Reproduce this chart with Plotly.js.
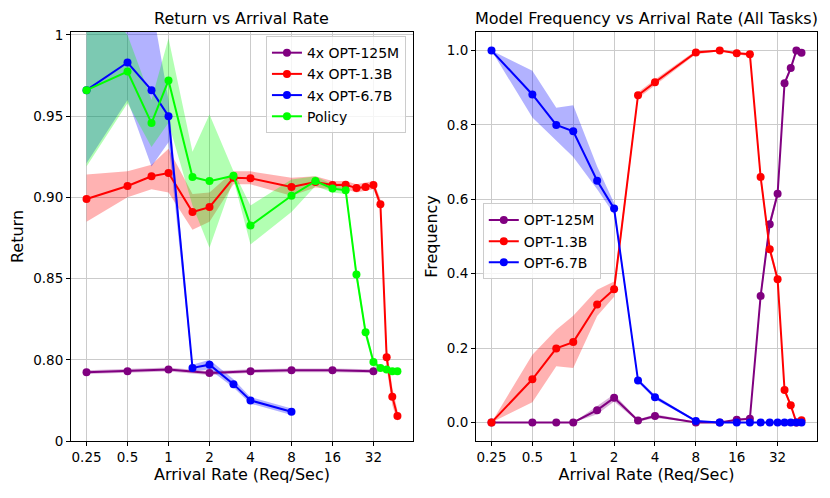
<!DOCTYPE html>
<html>
<head>
<meta charset="utf-8">
<script src="https://cdn.plot.ly/plotly-3.0.1.min.js"></script>
<style>
  html, body { margin: 0; padding: 0; background: #fff; }
  #graph { width: 830px; height: 498px; }
</style>
</head>
<body>
<div id="graph"></div>
<script>
// arrival rates (req/sec)
const rates = [0.25, 0.5, 0.75, 1, 1.5, 2, 3, 4, 8, 12, 16, 20, 24, 28, 32, 36, 40, 44, 48];
const tickRates = [0.25, 0.5, 1, 2, 4, 8, 16, 32];
const tickRateLabels = ["0.25", "0.5", "1", "2", "4", "8", "16", "32"];

// left panel: return
const smallRates = [0.25, 0.5, 1, 2, 4, 8, 16, 32];
const smallReturn = [0.7924, 0.793, 0.794, 0.7918, 0.793, 0.7935, 0.7935, 0.793];
const smallLo = [0.7912, 0.7918, 0.7928, 0.7906, 0.7918, 0.7923, 0.7923, 0.7918];
const smallHi = [0.7936, 0.7942, 0.7952, 0.7930, 0.7942, 0.7947, 0.7947, 0.7942];

const midReturn = [0.899, 0.907, 0.913, 0.915, 0.891, 0.894, 0.912, 0.9117, 0.9064, 0.9094, 0.9076, 0.9078, 0.9057, 0.9064, 0.9076, 0.8957, 0.8016, 0.7773, 0.7654];
const midLo = [0.885, 0.900, 0.905, 0.903, 0.880, 0.885, 0.908, 0.908, 0.901, 0.906, 0.905, 0.905, 0.903, 0.904, 0.905, 0.893, 0.795, 0.772, 0.762];
const midHi = [0.914, 0.916, 0.920, 0.930, 0.902, 0.903, 0.916, 0.916, 0.912, 0.913, 0.910, 0.910, 0.908, 0.909, 0.910, 0.899, 0.808, 0.783, 0.769];

const bigRates = [0.25, 0.5, 0.75, 1, 1.5, 2, 3, 4, 8];
const bigReturn = [0.966, 0.983, 0.966, 0.950, 0.795, 0.797, 0.785, 0.775, 0.768];
const bigLo = [0.921, 0.960, 0.919, 0.934, 0.793, 0.794, 0.783, 0.773, 0.766];
const bigHi = [1.03, 1.03, 1.02, 0.960, 0.797, 0.800, 0.788, 0.777, 0.770];

const policyReturn = [0.966, 0.9775, 0.9457, 0.972, 0.9125, 0.910, 0.9133, 0.8826, 0.901, 0.910, 0.9055, 0.9043, 0.8525, 0.817, 0.7986, 0.795, 0.794, 0.793, 0.793];
const policyLo = [0.919, 0.958, 0.931, 0.946, 0.895, 0.869, 0.911, 0.871, 0.891, 0.907, 0.903, 0.902, 0.849, 0.814, 0.796, 0.794, 0.793, 0.792, 0.792];
const policyHi = [1.03, 1.0, 0.96, 0.998, 0.928, 0.951, 0.916, 0.895, 0.911, 0.913, 0.908, 0.907, 0.856, 0.820, 0.801, 0.796, 0.795, 0.794, 0.794];

const returnTicks = [0.75, 0.8, 0.85, 0.9, 0.95, 1];
const returnTickLabels = ["0", "0.80", "0.85", "0.90", "0.95", "1"];

// right panel: model frequency
const freq125 = [0, 0, 0, 0, 0.033, 0.066, 0.005, 0.017, 0, 0, 0.007, 0.01, 0.34, 0.533, 0.615, 0.912, 0.953, 1.0, 0.994];
const freq125Lo = [0, 0, 0, 0, 0.022, 0.056, 0.002, 0.012, 0, 0, 0.004, 0.006, 0.325, 0.52, 0.605, 0.906, 0.948, 1.0, 0.99];
const freq125Hi = [0, 0, 0, 0, 0.044, 0.076, 0.008, 0.022, 0.002, 0, 0.01, 0.014, 0.355, 0.545, 0.625, 0.918, 0.958, 1.0, 0.998];

const freq13 = [0, 0.116, 0.199, 0.216, 0.317, 0.358, 0.88, 0.915, 0.995, 1.0, 0.993, 0.99, 0.66, 0.466, 0.385, 0.087, 0.046, 0.0, 0.006];
const freq13Lo = [0, 0.054, 0.151, 0.146, 0.286, 0.338, 0.872, 0.908, 0.99, 0.998, 0.99, 0.985, 0.645, 0.455, 0.375, 0.08, 0.04, 0, 0.003];
const freq13Hi = [0, 0.182, 0.249, 0.287, 0.357, 0.379, 0.888, 0.922, 1.0, 1.0, 0.996, 0.995, 0.675, 0.48, 0.395, 0.094, 0.052, 0.002, 0.009];

const freq67 = [1, 0.882, 0.80, 0.783, 0.65, 0.575, 0.113, 0.068, 0.004, 0, 0, 0, 0, 0, 0, 0, 0, 0, 0];
const freq67Lo = [1, 0.82, 0.759, 0.714, 0.627, 0.56, 0.108, 0.062, 0.002, 0, 0, 0, 0, 0, 0, 0, 0, 0, 0];
const freq67Hi = [1, 0.946, 0.846, 0.853, 0.688, 0.59, 0.118, 0.074, 0.006, 0, 0, 0, 0, 0, 0, 0, 0, 0, 0];

const FONT = "DejaVu Sans, Arial, sans-serif";
const TICK = 13.5;
const LABEL = 16;
const LEG = 14;

function band(xs, lo, hi, color, xa, ya) {
  return {
    x: xs.concat(xs.slice().reverse()),
    y: hi.concat(lo.slice().reverse()),
    xaxis: xa,
    yaxis: ya,
    fill: "toself",
    fillcolor: color,
    line: { width: 0 },
    mode: "lines",
    hoverinfo: "skip",
    showlegend: false,
  };
}

function series(xs, ys, color, name, xa, ya, legend) {
  return {
    x: xs,
    y: ys,
    xaxis: xa,
    yaxis: ya,
    mode: "lines+markers",
    name: name,
    line: { color: color, width: 2 },
    marker: { color: color, size: 8 },
    legend: legend,
  };
}

const data = [
  band(smallRates, smallLo, smallHi, "rgba(128,0,128,0.3)", "x", "y"),
  band(rates, midLo, midHi, "rgba(255,0,0,0.3)", "x", "y"),
  band(bigRates, bigLo, bigHi, "rgba(0,0,255,0.3)", "x", "y"),
  band(rates, policyLo, policyHi, "rgba(0,255,0,0.3)", "x", "y"),
  series(smallRates, smallReturn, "purple", "4x OPT-125M", "x", "y", "legend"),
  series(rates, midReturn, "red", "4x OPT-1.3B", "x", "y", "legend"),
  series(bigRates, bigReturn, "blue", "4x OPT-6.7B", "x", "y", "legend"),
  series(rates, policyReturn, "lime", "Policy", "x", "y", "legend"),

  band(rates, freq125Lo, freq125Hi, "rgba(128,0,128,0.3)", "x2", "y2"),
  band(rates, freq13Lo, freq13Hi, "rgba(255,0,0,0.3)", "x2", "y2"),
  band(rates, freq67Lo, freq67Hi, "rgba(0,0,255,0.3)", "x2", "y2"),
  series(rates, freq125, "purple", "OPT-125M", "x2", "y2", "legend2"),
  series(rates, freq13, "red", "OPT-1.3B", "x2", "y2", "legend2"),
  series(rates, freq67, "blue", "OPT-6.7B", "x2", "y2", "legend2"),
];

const xRange = [Math.log10(0.25) - 0.379 * Math.log10(2), Math.log10(48) + 0.379 * Math.log10(2)];

function xAxis(domain, anchor) {
  return {
    domain: domain,
    anchor: anchor,
    type: "log",
    range: xRange,
    tickvals: tickRates,
    ticktext: tickRateLabels,
    showgrid: true,
    gridcolor: "#cbcbcb",
    gridwidth: 1,
    showline: true,
    mirror: true,
    linecolor: "#000",
    linewidth: 1,
    ticks: "outside",
    ticklen: 4,
    tickcolor: "#000",
    zeroline: false,
    tickfont: { size: TICK },
    title: { text: "Arrival Rate (Req/Sec)", font: { size: LABEL }, standoff: 4 },
  };
}

function yAxis(anchor) {
  return {
    anchor: anchor,
    domain: [0, 1],
    showgrid: true,
    gridcolor: "#cbcbcb",
    gridwidth: 1,
    showline: true,
    mirror: true,
    linecolor: "#000",
    linewidth: 1,
    ticks: "outside",
    ticklen: 4,
    tickcolor: "#000",
    zeroline: false,
    tickfont: { size: TICK },
  };
}

const yLeft = Object.assign(yAxis("x"), {
  range: [0.75, 1.0018],
  tickvals: returnTicks,
  ticktext: returnTickLabels,
  title: { text: "Return", font: { size: LABEL }, standoff: 5 },
});

const yRight = Object.assign(yAxis("x2"), {
  range: [-0.05, 1.05],
  tickvals: [0, 0.2, 0.4, 0.6, 0.8, 1.0],
  tickformat: ".1f",
  title: { text: "Frequency", font: { size: LABEL }, standoff: 5 },
});

const legendStyle = {
  bgcolor: "rgba(255,255,255,0.8)",
  bordercolor: "#cccccc",
  borderwidth: 1,
  font: { size: LEG },
  tracegroupgap: 0,
  itemwidth: 30,
};

const layout = {
  width: 830,
  height: 498,
  margin: { l: 71, r: 13, t: 32, b: 57 },
  paper_bgcolor: "#fff",
  plot_bgcolor: "#fff",
  font: { family: FONT, color: "#000", size: TICK },
  showlegend: true,
  xaxis: xAxis([0, 0.4584], "y"),
  yaxis: yLeft,
  xaxis2: xAxis([0.5429, 1], "y2"),
  yaxis2: yRight,
  legend: Object.assign({ x: 0.449, xanchor: "right", y: 0.99, yanchor: "top" }, legendStyle),
  legend2: Object.assign({ x: 0.552, xanchor: "left", y: 0.581, yanchor: "top" }, legendStyle),
  annotations: [
    {
      text: "Return vs Arrival Rate",
      x: 0.2292, xref: "paper", xanchor: "center",
      y: 1, yref: "paper", yanchor: "bottom", yshift: 2,
      showarrow: false, font: { size: LABEL },
    },
    {
      text: "Model Frequency vs Arrival Rate (All Tasks)",
      x: 0.7714, xref: "paper", xanchor: "center",
      y: 1, yref: "paper", yanchor: "bottom", yshift: 2,
      showarrow: false, font: { size: LABEL },
    },
  ],
};

Plotly.newPlot("graph", data, layout, { displayModeBar: false, staticPlot: true });
</script>
</body>
</html>
